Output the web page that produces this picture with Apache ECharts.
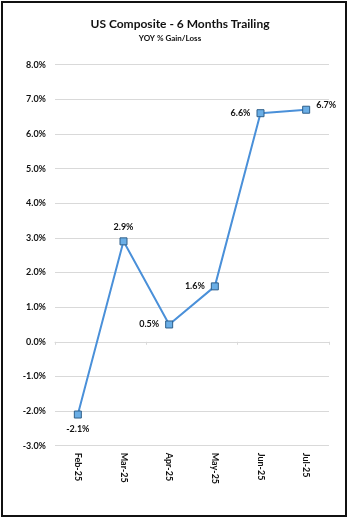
<!DOCTYPE html>
<html>
<head>
<meta charset="utf-8">
<script src="https://cdn.jsdelivr.net/npm/echarts@6/dist/echarts.min.js"></script>
<style>
  html, body { margin: 0; padding: 0; background: #fff; }
  #chart { width: 350px; height: 519px; }
</style>
</head>
<body>
<div id="chart"></div>
<script>
// Monthly trailing YOY % change
const months = ['Feb-25', 'Mar-25', 'Apr-25', 'May-25', 'Jun-25', 'Jul-25'];
const yoyPct = [-2.1, 2.9, 0.5, 1.6, 6.6, 6.7];
const labelSides = ['bottom', 'top', 'left', 'left', 'left', 'right'];

const FONT = 'Lato, "Noto Sans", sans-serif';
const TEXT = '#111';
const GRID = '#d9d9d9';

const points = yoyPct.map((v, i) => {
  const side = labelSides[i];
  const label = { position: side };
  if (side === 'right') label.offset = [0, -5];
  return { value: v, label };
});

const chart = echarts.init(document.getElementById('chart'), null, { renderer: 'canvas' });
chart.setOption({
  animation: false,
  backgroundColor: '#fff',
  title: [
    {
      text: 'US Composite - 6 Months Trailing',
      left: 180, top: 18, textAlign: 'center', padding: 0,
      textStyle: { fontFamily: FONT, fontSize: 12, fontWeight: 'bold', color: TEXT }
    },
    {
      text: 'YOY % Gain/Loss',
      left: 170, top: 34.5, textAlign: 'center', padding: 0,
      textStyle: { fontFamily: FONT, fontSize: 8, fontWeight: 'bold', color: TEXT }
    }
  ],
  graphic: [{
    type: 'rect',
    shape: { x: 2, y: 2, width: 344, height: 514 },
    style: { fill: 'none', stroke: '#111', lineWidth: 2 },
    silent: true
  }],
  grid: { left: 55, right: 21, top: 64.7, bottom: 73.3, containLabel: false },
  xAxis: [
    {
      type: 'category',
      data: months,
      boundaryGap: true,
      position: 'bottom',
      axisLine: { show: false, onZero: false },
      axisTick: { show: false },
      axisLabel: {
        rotate: -90, margin: 7, fontFamily: FONT, fontSize: 9,
        fontWeight: 'bold', color: TEXT
      }
    },
    {
      type: 'category',
      data: months,
      boundaryGap: true,
      position: 'bottom',
      axisLine: { show: true, onZero: true, lineStyle: { color: GRID, width: 1 } },
      axisTick: { show: true, length: 3, lineStyle: { color: GRID } },
      axisLabel: { show: false }
    }
  ],
  yAxis: {
    type: 'value',
    min: -3, max: 8, interval: 1,
    axisLine: { show: false },
    axisTick: { show: false },
    splitLine: { show: true, lineStyle: { color: GRID, width: 1 } },
    axisLabel: {
      margin: 9, fontFamily: FONT, fontSize: 9, fontWeight: 'bold', color: TEXT,
      formatter: v => v.toFixed(1) + '%'
    }
  },
  series: [{
    type: 'line',
    xAxisIndex: 0,
    data: points,
    symbol: 'rect',
    symbolSize: 7,
    lineStyle: { color: '#4a90d9', width: 2 },
    itemStyle: { color: '#6aaee6', borderColor: '#2f5f8a', borderWidth: 1 },
    label: {
      show: true,
      distance: 6,
      fontFamily: FONT, fontSize: 9, fontWeight: 'bold', color: TEXT,
      formatter: p => p.value.toFixed(1) + '%'
    }
  }]
});
</script>
</body>
</html>
